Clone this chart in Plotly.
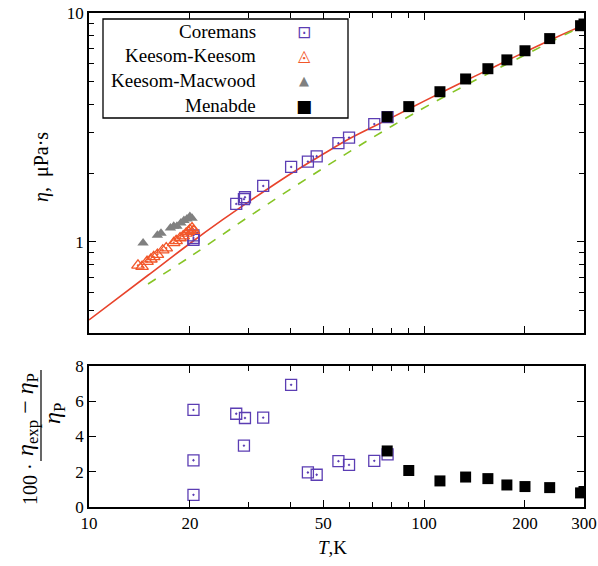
import plotly.graph_objects as go
import math

# ---------------- data ----------------
# Coremans (open squares)
coremans_T = [20.5, 20.5, 20.5, 27.5, 29.2, 29.0, 33.1, 40.1, 45.0, 47.8, 55.5, 59.7, 71.0, 77.8]
coremans_eta = [1.069, 1.04, 1.02, 1.466, 1.567, 1.537, 1.756, 2.126, 2.243, 2.366, 2.70, 2.855, 3.27, 3.51]
coremans_dev = [5.51, 2.65, 0.69, 5.29, 5.05, 3.48, 5.07, 6.93, 1.96, 1.83, 2.60, 2.39, 2.62, 2.99]

# Keesom-Keesom (open triangles)
kk_T = [14.0, 14.4, 14.9, 15.3, 15.6, 16.0, 16.6, 17.0, 17.9, 18.2, 18.7, 19.1, 19.5, 19.8, 20.0, 20.3, 20.5]
kk_eta = [0.79, 0.78, 0.82, 0.84, 0.86, 0.88, 0.92, 0.94, 0.99, 1.01, 1.04, 1.06, 1.09, 1.11, 1.13, 1.15, 1.12]

# Keesom-Macwood (filled grey triangles)
km_T = [14.5, 16.0, 16.4, 17.5, 17.9, 18.3, 18.8, 19.2, 19.6, 20.0, 20.3]
km_eta = [0.99, 1.07, 1.09, 1.15, 1.17, 1.17, 1.21, 1.24, 1.26, 1.29, 1.27]

# Menabde (filled black squares)
menabde_T = [77.6, 90.0, 111.5, 133, 155, 176.6, 200, 237, 293, 300]
menabde_eta = [3.52, 3.90, 4.53, 5.15, 5.71, 6.24, 6.84, 7.73, 8.80, 8.95]
menabde_dev = [3.18, 2.07, 1.48, 1.70, 1.61, 1.25, 1.16, 1.10, 0.80, 0.88]

# Reference curve (red solid)
ref_T = [10, 12, 15, 20, 25, 30, 40, 50, 60, 80, 100, 130, 160, 200, 250, 300]
ref_eta = [0.456, 0.558, 0.715, 0.984, 1.247, 1.50, 1.985, 2.42, 2.83, 3.49, 4.12, 4.98, 5.77, 6.76, 7.88, 8.87]

# Second curve (green dashed)
alt_T = [15, 20, 30, 50, 80, 130, 200, 300]
alt_eta = [0.655, 0.86, 1.29, 2.10, 3.20, 4.75, 6.56, 8.85]

legend_names = ["Coremans", "Keesom-Keesom", "Keesom-Macwood", "Menabde"]
legend_glyphs = ["⊡", "◬", "▲", "■"]

x_tickvals = [10, 20, 50, 100, 200, 300]
x_minor = [30, 40, 60, 70, 80, 90]
y_tickvals = [1, 10]
y_minor = [0.4, 0.5, 0.6, 0.7, 0.8, 0.9, 2, 3, 4, 5, 6, 7, 8, 9]
dev_ticks = [0, 2, 4, 6, 8]

# ---------------- style ----------------
FONT = "Liberation Serif"
PURPLE = "#5b3db3"
ORANGE = "#f2572a"
GREY = "#808080"
RED = "#e8432b"
GREEN = "#86c425"
legend_colors = [PURPLE, ORANGE, GREY, "black"]
legend_glyph_sizes = [17, 16, 13, 17]

W, H = 598, 566
L, R, T_, B = 89, 584, 13, 507
pw, ph = R - L, B - T_

def px_x(p):
    return (p - L) / pw

def px_y(p):
    return (B - p) / ph

top_dom = [px_y(333), 1.0]
bot_dom = [0.0, px_y(366)]

fig = go.Figure()

fig.add_trace(go.Scatter(x=ref_T, y=ref_eta, mode="lines", line=dict(color=RED, width=1.6, shape="spline"),
                         showlegend=False, xaxis="x", yaxis="y", hoverinfo="skip"))
fig.add_trace(go.Scatter(x=alt_T, y=alt_eta, mode="lines", line=dict(color=GREEN, width=1.6, dash="dash", shape="spline"),
                         showlegend=False, xaxis="x", yaxis="y", hoverinfo="skip"))

fig.add_trace(go.Scatter(x=coremans_T, y=coremans_eta, mode="markers", name=legend_names[0], showlegend=False,
                         marker=dict(symbol="square-open-dot", size=11, color=PURPLE, line=dict(width=1.3)),
                         xaxis="x", yaxis="y"))
fig.add_trace(go.Scatter(x=kk_T, y=kk_eta, mode="markers", name=legend_names[1], showlegend=False,
                         marker=dict(symbol="triangle-up-open-dot", size=11, color=ORANGE, line=dict(width=1.3)),
                         xaxis="x", yaxis="y"))
fig.add_trace(go.Scatter(x=km_T, y=km_eta, mode="markers", name=legend_names[2], showlegend=False,
                         marker=dict(symbol="triangle-up", size=10, color=GREY),
                         xaxis="x", yaxis="y"))
fig.add_trace(go.Scatter(x=menabde_T, y=menabde_eta, mode="markers", name=legend_names[3], showlegend=False,
                         marker=dict(symbol="square", size=11, color="black"),
                         xaxis="x", yaxis="y"))

fig.add_trace(go.Scatter(x=coremans_T, y=coremans_dev, mode="markers", showlegend=False, name=legend_names[0],
                         marker=dict(symbol="square-open-dot", size=11, color=PURPLE, line=dict(width=1.3)),
                         xaxis="x2", yaxis="y2"))
fig.add_trace(go.Scatter(x=menabde_T, y=menabde_dev, mode="markers", showlegend=False, name=legend_names[3],
                         marker=dict(symbol="square", size=11, color="black"),
                         xaxis="x2", yaxis="y2"))

axis_common = dict(showline=True, linecolor="black", linewidth=1.6, mirror="ticks", ticks="inside",
                   ticklen=7, tickwidth=1.3, tickcolor="black", showgrid=False, zeroline=False,
                   tickfont=dict(family=FONT, size=17, color="black"))
minor_common = dict(ticks="inside", ticklen=5, tickwidth=1.1, tickcolor="black", showgrid=False)

xr = [1, math.log10(300)]
fig.update_layout(
    width=W, height=H,
    margin=dict(l=L, r=W - R, t=T_, b=H - B, autoexpand=False),
    paper_bgcolor="white", plot_bgcolor="white",
    font=dict(family=FONT, size=17, color="black"),
    xaxis=dict(axis_common, type="log", range=xr, domain=[0, 1], anchor="y",
               tickmode="array", tickvals=x_tickvals, showticklabels=False,
               minor=dict(minor_common, tickmode="array", tickvals=x_minor)),
    yaxis=dict(axis_common, type="log", range=[math.log10(0.4), 1], domain=top_dom, anchor="x",
               tickmode="array", tickvals=y_tickvals, ticktext=[str(v) for v in y_tickvals],
               minor=dict(minor_common, tickmode="array", tickvals=y_minor)),
    xaxis2=dict(axis_common, type="log", range=xr, domain=[0, 1], anchor="y2",
                tickmode="array", tickvals=x_tickvals, ticktext=[str(v) for v in x_tickvals],
                minor=dict(minor_common, tickmode="array", tickvals=x_minor)),
    yaxis2=dict(axis_common, range=[0, 8], domain=bot_dom, anchor="x2",
                tickmode="array", tickvals=dev_ticks),
    showlegend=False,
)

ann = []
ann.append(dict(text="<i>η</i>,  μPa·s", x=px_x(41), y=px_y(167), xref="paper", yref="paper",
                textangle=-90, showarrow=False, font=dict(family=FONT, size=20), xanchor="center", yanchor="middle"))
ann.append(dict(text="<i>T</i>,K", x=px_x(332), y=px_y(547), xref="paper", yref="paper",
                showarrow=False, font=dict(family=FONT, size=19), xanchor="center", yanchor="middle"))
ann.append(dict(text="100 ·", x=px_x(30), y=px_y(484), xref="paper", yref="paper",
                textangle=-90, showarrow=False, font=dict(family=FONT, size=20), xanchor="center", yanchor="middle"))
ann.append(dict(text="<i>η</i><sub>exp</sub> − <i>η</i><sub>P</sub>", x=px_x(27), y=px_y(415), xref="paper", yref="paper",
                textangle=-90, showarrow=False, font=dict(family=FONT, size=24), xanchor="center", yanchor="middle"))
ann.append(dict(text="<i>η</i><sub>P</sub>", x=px_x(54), y=px_y(414), xref="paper", yref="paper",
                textangle=-90, showarrow=False, font=dict(family=FONT, size=24), xanchor="center", yanchor="middle"))

# legend (text right-aligned, symbol to the right, as in the reference)
row_y = [32, 56, 81, 106]
for name, glyph, col, gs, ry in zip(legend_names, legend_glyphs, legend_colors, legend_glyph_sizes, row_y):
    ann.append(dict(text=name, x=px_x(258), y=px_y(ry), xref="paper", yref="paper", showarrow=False,
                    xanchor="right", yanchor="middle", font=dict(family=FONT, size=19, color="black")))
    ann.append(dict(text=glyph, x=px_x(304), y=px_y(ry), xref="paper", yref="paper", showarrow=False,
                    xanchor="center", yanchor="middle", font=dict(family="DejaVu Sans", size=gs, color=col)))
fig.update_layout(annotations=ann)

fig.add_shape(type="rect", xref="paper", yref="paper", x0=px_x(103), x1=px_x(348), y0=px_y(118), y1=px_y(19),
              line=dict(color="black", width=1.3), fillcolor="white", layer="above")
fig.add_shape(type="line", xref="paper", yref="paper", x0=px_x(41), x1=px_x(41), y0=px_y(370), y1=px_y(461),
              line=dict(color="black", width=1.2))

fig.write_html("out.html", config={"displayModeBar": False},
               post_script="document.body.style.margin='0';document.body.style.padding='0';document.documentElement.style.overflow='hidden';")
